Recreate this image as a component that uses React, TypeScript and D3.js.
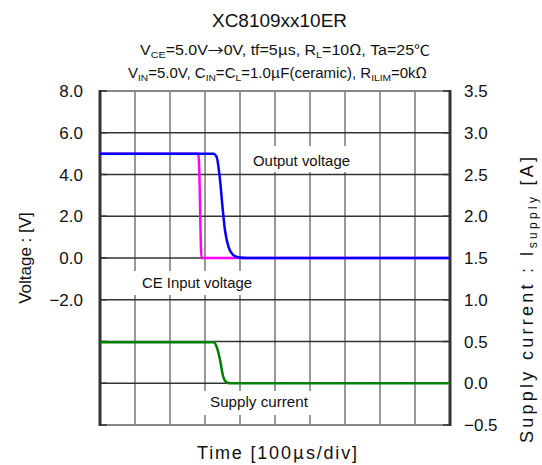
import React from "react";
import * as d3 from "d3";

// ---- data (time in divisions of 100 µs) ----
const outputTime = [0, 3.24, 3.33, 3.43, 3.5, 3.57, 3.67, 3.81, 3.95, 4.2, 10];
const outputVoltage = [5.0, 5.0, 4.85, 3.73, 2.45, 1.34, 0.54, 0.14, 0.04, 0.0, 0.0];

const ceTime = [0, 2.81, 2.83, 2.9, 10];
const ceVoltage = [5.0, 5.0, 4.5, 0.0, 0.0];

const supplyTime = [0, 3.24, 3.33, 3.43, 3.52, 3.62, 3.7, 10];
const supplyCurrent = [0.49, 0.49, 0.44, 0.28, 0.08, 0.01, 0.0, 0.0];

const leftTicks = [8, 6, 4, 2, 0, -2, -4, -6, -8];
const leftTickLabels = ["8.0", "6.0", "4.0", "2.0", "0.0", "−2.0", "", "", ""];
const rightTicks = [3.5, 3.0, 2.5, 2.0, 1.5, 1.0, 0.5, 0.0, -0.5];
const timeTicks = [0, 1, 2, 3, 4, 5, 6, 7, 8, 9, 10];

const W = 542;
const H = 465;
const M = { left: 100, right: 450, top: 91, bottom: 425 };
const FONT = "'Liberation Sans', Arial, sans-serif";
const CJK = "'Noto Sans CJK JP', sans-serif";

export default function App() {
  const x = d3.scaleLinear().domain([0, 10]).range([M.left, M.right]);
  const yL = d3.scaleLinear().domain([-8, 8]).range([M.bottom, M.top]);
  const yR = d3.scaleLinear().domain([-0.5, 3.5]).range([M.bottom, M.top]);

  const lineL = d3
    .line<[number, number]>()
    .x((d) => x(d[0]))
    .y((d) => yL(d[1]))
    .curve(d3.curveMonotoneX);
  const lineR = d3
    .line<[number, number]>()
    .x((d) => x(d[0]))
    .y((d) => yR(d[1]))
    .curve(d3.curveMonotoneX);

  const zip = (a: number[], b: number[]) => a.map((t, i) => [t, b[i]] as [number, number]);

  return (
    <svg
      width={W}
      height={H}
      style={{ position: "absolute", left: 0, top: 0, background: "#fff" }}
      fontFamily={FONT}
    >
      <rect x={0} y={0} width={W} height={H} fill="#fff" />
      {/* titles */}
      <text x={212} y={27} fontSize={17.5} textLength={135} lengthAdjust="spacingAndGlyphs" fill="#111">
        XC8109xx10ER
      </text>
      <text x={140} y={55} fontSize={14} textLength={290} lengthAdjust="spacingAndGlyphs" fill="#111">
        <tspan>V</tspan>
        <tspan fontSize={9.5} dy={3}>CE</tspan>
        <tspan dy={-3}>=5.0V</tspan>
        <tspan fontFamily={CJK}>→</tspan>
        <tspan>0V, tf=5</tspan>
        <tspan fontFamily={CJK}>μ</tspan>
        <tspan>s, R</tspan>
        <tspan fontSize={9.5} dy={3}>L</tspan>
        <tspan dy={-3}>=10</tspan>
        <tspan fontFamily={CJK}>Ω</tspan>
        <tspan>, Ta=25</tspan>
        <tspan fontFamily={CJK}>℃</tspan>
      </text>
      <text x={128} y={78} fontSize={14} textLength={299} lengthAdjust="spacingAndGlyphs" fill="#111">
        <tspan>V</tspan>
        <tspan fontSize={9.5} dy={3}>IN</tspan>
        <tspan dy={-3}>=5.0V, C</tspan>
        <tspan fontSize={9.5} dy={3}>IN</tspan>
        <tspan dy={-3}>=C</tspan>
        <tspan fontSize={9.5} dy={3}>L</tspan>
        <tspan dy={-3}>=1.0</tspan>
        <tspan fontFamily={CJK}>μ</tspan>
        <tspan>F(ceramic), R</tspan>
        <tspan fontSize={9.5} dy={3}>ILIM</tspan>
        <tspan dy={-3}>=0k</tspan>
        <tspan fontFamily={CJK}>Ω</tspan>
      </text>

      {/* grid */}
      {timeTicks.slice(1, -1).map((t) => (
        <line key={"v" + t} x1={x(t)} x2={x(t)} y1={M.top} y2={M.bottom} stroke="#777" strokeWidth={1.5} />
      ))}
      {leftTicks.slice(1, -1).map((v) => (
        <line key={"h" + v} x1={M.left} x2={M.right} y1={yL(v)} y2={yL(v)} stroke="#333" strokeWidth={1.3} />
      ))}

      {/* label boxes */}
      <rect x={242} y={146} width={120} height={26} fill="#fff" />
      <rect x={128} y={271} width={138} height={24} fill="#fff" />
      <rect x={200} y={391} width={118} height={24} fill="#fff" />

      {/* frame */}
      <line x1={M.left} x2={M.right} y1={M.top} y2={M.top} stroke="#888" strokeWidth={2} />
      <line x1={M.left} x2={M.right} y1={M.bottom} y2={M.bottom} stroke="#888" strokeWidth={2} />
      <line x1={M.left} x2={M.left} y1={M.top - 1} y2={M.bottom + 1} stroke="#333" strokeWidth={3} />
      <line x1={M.right} x2={M.right} y1={M.top - 1} y2={M.bottom + 1} stroke="#333" strokeWidth={3} />
      {leftTicks.map((v) => (
        <line key={"tl" + v} x1={M.left} x2={M.left + 7} y1={yL(v)} y2={yL(v)} stroke="#333" strokeWidth={1.5} />
      ))}
      {rightTicks.map((v) => (
        <line key={"tr" + v} x1={M.right - 7} x2={M.right} y1={yR(v)} y2={yR(v)} stroke="#333" strokeWidth={1.5} />
      ))}

      {/* series */}
      <path d={lineL(zip(ceTime, ceVoltage)) || ""} fill="none" stroke="#ff00ff" strokeWidth={2.5} />
      <path d={lineL(zip(outputTime, outputVoltage)) || ""} fill="none" stroke="#0000ff" strokeWidth={2.5} />
      <path d={lineR(zip(supplyTime, supplyCurrent)) || ""} fill="none" stroke="#008000" strokeWidth={2.5} />

      {/* in-plot labels */}
      <text x={253} y={166} fontSize={14.5} textLength={97} lengthAdjust="spacingAndGlyphs" fill="#111">Output voltage</text>
      <text x={142} y={288} fontSize={14.5} textLength={110} lengthAdjust="spacingAndGlyphs" fill="#111">CE Input voltage</text>
      <text x={210} y={407} fontSize={14.5} textLength={98} lengthAdjust="spacingAndGlyphs" fill="#111">Supply current</text>

      {/* left tick labels */}
      {leftTicks.map((v, i) =>
        leftTickLabels[i] ? (
          <text key={"ll" + v} x={83} y={yL(v) + 6} fontSize={17} textAnchor="end" fill="#111">
            {leftTickLabels[i]}
          </text>
        ) : null
      )}
      {/* right tick labels */}
      {rightTicks.map((v) => (
        <text key={"rl" + v} x={464} y={yR(v) + 6} fontSize={17} textAnchor="start" fill="#111">
          {v < 0 ? "−" + Math.abs(v).toFixed(1) : v.toFixed(1)}
        </text>
      ))}

      {/* axis titles */}
      <text transform="translate(31,258) rotate(-90)" fontSize={17} textAnchor="middle" fill="#111">
        Voltage : [V]
      </text>
      <text
        transform="translate(533,443) rotate(-90)"
        fontSize={18}
        textLength={286}
        lengthAdjust="spacing"
        fill="#111"
      >
        <tspan>Supply current : I</tspan>
        <tspan fontSize={12} dy={4}>supply</tspan>
        <tspan dy={-4}> [A]</tspan>
      </text>
      <text x={197} y={459} fontSize={18} textLength={160} lengthAdjust="spacing" fill="#111">
        <tspan>Time [100</tspan>
        <tspan fontFamily={CJK}>μ</tspan>
        <tspan>s/div]</tspan>
      </text>
    </svg>
  );
}
